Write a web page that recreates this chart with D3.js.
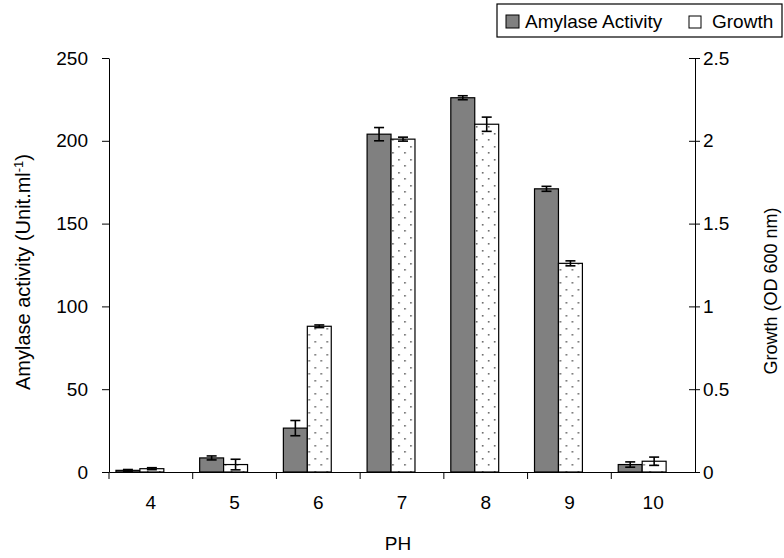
<!DOCTYPE html>
<html lang="en">
<head>
<meta charset="utf-8">
<title>Amylase activity and growth vs pH</title>
<script src="https://d3js.org/d3.v7.min.js"></script>
<style>
  body { margin: 0; background: #fff; }
  svg text { font-family: "Liberation Sans", Arial, sans-serif; fill: #000; }
</style>
</head>
<body>
<div id="chart"></div>
<script>
// data
var phLevels   = ["4", "5", "6", "7", "8", "9", "10"];
var amylase    = [1, 8.5, 26.5, 204, 226, 171, 4.5];
var amylaseErr = [0.5, 1.2, 4.6, 4, 1.2, 1.5, 1.6];
var growth     = [0.02, 0.045, 0.88, 2.01, 2.1, 1.26, 0.065];
var growthErr  = [0.006, 0.032, 0.008, 0.012, 0.043, 0.015, 0.025];
var leftTicks  = [0, 50, 100, 150, 200, 250];
var rightTicks = [0, 0.5, 1, 1.5, 2, 2.5];

var W = 784, H = 558;
var plot = {left: 109, right: 695, top: 58, bottom: 472};

var svg = d3.select("#chart").append("svg")
    .attr("width", W).attr("height", H);

// dotted fill used for the growth bars
var defs = svg.append("defs");
var pat = defs.append("pattern")
    .attr("id", "dots")
    .attr("patternUnits", "userSpaceOnUse")
    .attr("width", 12).attr("height", 13);
pat.append("rect").attr("width", 12).attr("height", 13).attr("fill", "#fff");
pat.append("rect").attr("x", 2).attr("y", 3).attr("width", 1.6).attr("height", 1.6).attr("fill", "#666");
pat.append("rect").attr("x", 8).attr("y", 9).attr("width", 1.6).attr("height", 1.6).attr("fill", "#666");

var x = d3.scaleBand()
    .domain(phLevels)
    .range([plot.left, plot.right])
    .padding(0);

// the two bars sit a bit left of the band centre, like the original
var sub = d3.scaleBand()
    .domain(["amylase", "growth"])
    .range([x.bandwidth() * 0.083, x.bandwidth() * 0.655])
    .padding(0);

var yL = d3.scaleLinear().domain([0, 250]).range([plot.bottom, plot.top]);
var yR = d3.scaleLinear().domain([0, 2.5]).range([plot.bottom, plot.top]);

var rows = phLevels.map(function(p, i) {
  return {ph: p, a: amylase[i], ae: amylaseErr[i], g: growth[i], ge: growthErr[i]};
});

// bars
var groups = svg.append("g").selectAll("g")
    .data(rows).enter().append("g")
    .attr("transform", function(d) { return "translate(" + x(d.ph) + ",0)"; });

groups.append("rect")
    .attr("x", sub("amylase"))
    .attr("y", function(d) { return yL(d.a); })
    .attr("width", sub.bandwidth())
    .attr("height", function(d) { return yL(0) - yL(d.a); })
    .attr("fill", "#808080")
    .attr("stroke", "#000")
    .attr("stroke-width", 1.2);

groups.append("rect")
    .attr("x", sub("growth"))
    .attr("y", function(d) { return yR(d.g); })
    .attr("width", sub.bandwidth())
    .attr("height", function(d) { return yR(0) - yR(d.g); })
    .attr("fill", "url(#dots)")
    .attr("stroke", "#000")
    .attr("stroke-width", 1.2);

// error bars
function errBar(sel, cx, lo, hi) {
  var g = sel.append("g").attr("stroke", "#000").attr("stroke-width", 1.6);
  g.append("line").attr("x1", cx).attr("x2", cx).attr("y1", lo).attr("y2", hi);
  g.append("line").attr("x1", cx - 5).attr("x2", cx + 5).attr("y1", lo).attr("y2", lo);
  g.append("line").attr("x1", cx - 5).attr("x2", cx + 5).attr("y1", hi).attr("y2", hi);
}
groups.each(function(d) {
  var g = d3.select(this);
  var ca = sub("amylase") + sub.bandwidth() / 2;
  var cg = sub("growth") + sub.bandwidth() / 2;
  errBar(g, ca, yL(d.a - d.ae), yL(d.a + d.ae));
  errBar(g, cg, yR(d.g - d.ge), yR(d.g + d.ge));
});

// axes
var fs = "19px";
var axL = svg.append("g")
    .attr("transform", "translate(" + plot.left + ",0)")
    .call(d3.axisLeft(yL).tickValues(leftTicks).tickSize(7).tickSizeOuter(0).tickPadding(14));
var axR = svg.append("g")
    .attr("transform", "translate(" + plot.right + ",0)")
    .call(d3.axisRight(yR).tickValues(rightTicks).tickSize(5).tickSizeOuter(0).tickPadding(3)
      .tickFormat(function(d) { return d3.format("")(d); }));
// right axis ticks cross the line
axR.selectAll(".tick line").attr("x1", -6);

var axB = svg.append("g")
    .attr("transform", "translate(0," + plot.bottom + ")")
    .call(d3.axisBottom(x).tickSize(0).tickPadding(24));
// category dividers on the x axis
axB.selectAll(".divider")
    .data(phLevels).enter().append("line")
    .attr("x1", function(d) { return x(d); })
    .attr("x2", function(d) { return x(d); })
    .attr("y1", 0).attr("y2", 7)
    .attr("stroke", "#000");

[axL, axR, axB].forEach(function(a) {
  a.selectAll("text").style("font-size", fs).attr("fill", "#000");
  a.select(".domain").attr("stroke", "#000");
  a.selectAll(".tick line").attr("stroke", "#000");
});

// axis titles
svg.append("text")
    .attr("transform", "translate(30,272) rotate(-90)")
    .attr("text-anchor", "middle")
    .style("font-size", "20px")
    .call(function(t) {
      t.append("tspan").text("Amylase activity (Unit.ml");
      t.append("tspan").attr("dy", -7).style("font-size", "13px").text("-1");
      t.append("tspan").attr("dy", 7).text(")");
    });

svg.append("text")
    .attr("transform", "translate(777,291) rotate(-90)")
    .attr("text-anchor", "middle")
    .style("font-size", "18px")
    .text("Growth (OD 600 nm)");

svg.append("text")
    .attr("x", 398)
    .attr("y", 550)
    .attr("text-anchor", "middle")
    .style("font-size", fs)
    .text("PH");

// legend
var leg = svg.append("g").attr("transform", "translate(497,4)");
leg.append("rect").attr("width", 285).attr("height", 33)
    .attr("fill", "#fff").attr("stroke", "#000").attr("stroke-width", 1.2);
leg.append("rect").attr("x", 9).attr("y", 11).attr("width", 13).attr("height", 13)
    .attr("fill", "#808080").attr("stroke", "#000");
leg.append("text").attr("x", 28).attr("y", 24).style("font-size", fs).text("Amylase Activity");
leg.append("rect").attr("x", 192).attr("y", 12).attr("width", 12).attr("height", 12)
    .attr("fill", "#fff").attr("stroke", "#000");
leg.append("text").attr("x", 215).attr("y", 24).style("font-size", fs).text("Growth");
</script>
</body>
</html>
